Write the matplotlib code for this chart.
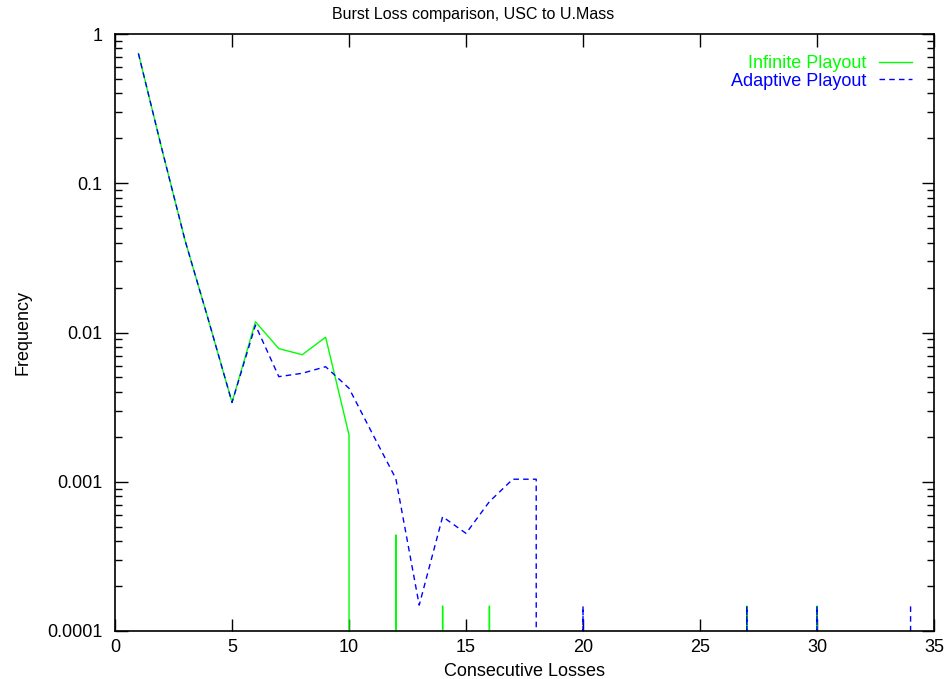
import matplotlib.pyplot as plt
import numpy as np
from matplotlib.ticker import FixedLocator, LogLocator, NullFormatter

plt.rcParams["font.family"] = ["Liberation Sans", "DejaVu Sans"]

# burst length (consecutive packets lost)
losses = np.arange(1, 35)

# frequency of each burst length, zero where no burst of that length was seen
infinite_freq = [
    0.74, 0.17, 0.041, 0.012, 0.0034, 0.0118, 0.0078, 0.0071, 0.0093, 0.00206,
    0, 0.00044, 0, 0.000147, 0, 0.000147, 0, 0, 0, 0,
    0, 0, 0, 0, 0, 0, 0.000147, 0, 0, 0.000147,
    0, 0, 0, 0,
]
adaptive_freq = [
    0.74, 0.17, 0.041, 0.012, 0.0034, 0.0112, 0.00506, 0.00533, 0.0059, 0.00423,
    0.0021, 0.00105, 0.000149, 0.000583, 0.000451, 0.000736, 0.00104, 0.00104, 0, 0.000147,
    0, 0, 0, 0, 0, 0, 0.000147, 0, 0, 0.000147,
    0, 0, 0, 0.000147,
]

FS = 13

fig = plt.figure(figsize=(9.46, 6.79), dpi=100)
ax = fig.add_axes([0.1216, 0.0707, 0.8657, 0.8792])
ax.set_yscale("log", nonpositive="clip")

ax.plot(losses, infinite_freq, "-", color="#00ff00", lw=1.0, label="Infinite Playout")
ax.plot(losses, adaptive_freq, "--", color="#0000ff", lw=1.0, dashes=(4, 3),
        label="Adaptive Playout")

ax.set_xlim(0, 35)
ax.set_ylim(1e-4, 1)
ax.xaxis.set_major_locator(FixedLocator(np.arange(0, 36, 5)))
ax.set_yticks([1e-4, 1e-3, 1e-2, 1e-1, 1])
ax.set_yticklabels(["0.0001", "0.001", "0.01", "0.1", "1"])
ax.yaxis.set_minor_locator(LogLocator(base=10, subs=np.arange(2, 10)))
ax.yaxis.set_minor_formatter(NullFormatter())

ax.tick_params(which="both", direction="in", top=True, right=True, labelsize=FS,
               width=1.0, color="black")
ax.tick_params(which="major", length=9)
ax.tick_params(axis="y", which="major", pad=9)
ax.tick_params(axis="x", which="major", pad=6)
ax.tick_params(which="minor", length=5)
for sp in ax.spines.values():
    sp.set_linewidth(1.2)

ax.set_xlabel("Consecutive Losses", fontsize=FS, labelpad=5)
ax.set_ylabel("Frequency", fontsize=FS, labelpad=11)
fig.text(0.5, 0.979, "Burst Loss comparison, USC to U.Mass", fontsize=11.5,
         ha="center", va="center")

ax.legend(loc="upper right", bbox_to_anchor=(0.973, 0.965), frameon=False,
          markerfirst=False, labelcolor="linecolor", fontsize=FS,
          handlelength=1.8, handletextpad=0.7, labelspacing=0.05,
          borderpad=0, borderaxespad=0)

fig.savefig("out.png", dpi=100)
